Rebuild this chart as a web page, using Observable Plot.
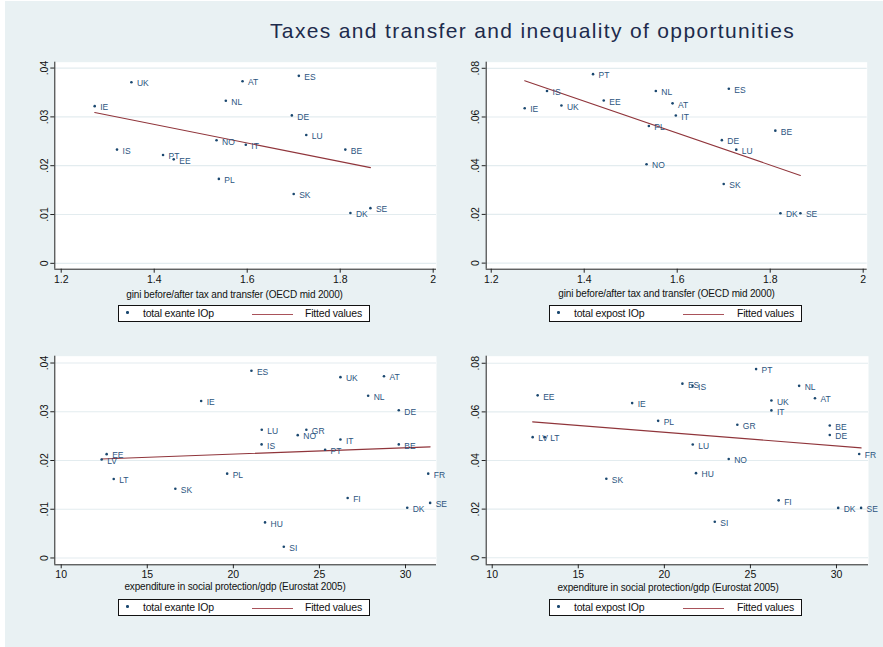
<!DOCTYPE html>
<html>
<head>
<meta charset="utf-8">
<script src="https://cdn.jsdelivr.net/npm/d3@7"></script>
<script src="https://cdn.jsdelivr.net/npm/@observablehq/plot@0.6"></script>
<style>
  html, body { margin: 0; padding: 0; background: #ffffff; }
  #root { position: relative; width: 883px; height: 647px; overflow: hidden; font-family: "Liberation Sans", Arial, sans-serif; }
  #bg { position: absolute; left: 5px; top: 1px; right: 0; bottom: 0; background: #e9f1f3; }
  .panel { position: absolute; }
  .title { position: absolute; top: 19px; left: 270px; font-size: 21px; color: #1d2b4c; white-space: nowrap; letter-spacing: 1.35px; }
  .xtitle { position: absolute; font-size: 10px; color: #111; white-space: nowrap; transform: translate(-50%, -50%); letter-spacing: -0.15px; }
  .legend { position: absolute; height: 17px; border: 1px solid #111; background: #fff; box-sizing: border-box; font-size: 10.5px; color: #111; }
  .legend span { position: absolute; top: 1px; white-space: nowrap; letter-spacing: -0.2px; }
  .legend .dot { position: absolute; width: 2.5px; height: 2.5px; border-radius: 50%; background: #1a476f; top: 5px; }
  .legend .ln { position: absolute; height: 1.3px; background: #a9525a; top: 8px; }
</style>
</head>
<body>
<div id="root"><div id="bg"></div></div>
<script>
// ---------- data ----------
const countries   = ["IE","UK","IS","PT","EE","NO","PL","NL","AT","IT","DE","SK","ES","LU","BE","DK","SE","GR","LV","LT","FR","FI","HU","SI"];
const giniRatio   = [1.272,1.351,1.320,1.419,1.442,1.534,1.539,1.554,1.590,1.597,1.696,1.700,1.711,1.727,1.811,1.822,1.865,null,null,null,null,null,null,null];
const expenditure = [18.13,26.22,21.64,25.33,12.64,23.74,19.64,27.83,28.75,26.22,29.61,16.63,21.05,21.65,29.61,30.10,31.43,24.24,12.35,13.05,31.32,26.64,21.84,22.93];
const exanteIOp   = [.0322,.0371,.0233,.0222,.0213,.0252,.0173,.0333,.0373,.0243,.0303,.0142,.0384,.0263,.0233,.0103,.0113,.0263,.0202,.0162,.0173,.0123,.0073,.0023];
const expostIOp   = [.0636,.0647,.0707,.0776,.0668,.0406,.0563,.0707,.0656,.0606,.0505,.0325,.0716,.0466,.0544,.0205,.0205,.0547,.0496,.0496,.0427,.0236,.0348,.0148];

// fitted lines (end points)
const fitGiniX = [1.272, 1.865];
const fitGiniExanteY = [0.0309, 0.0196];
const fitGiniExpostY = [0.0749, 0.0360];
const fitExpX = [12.35, 31.43];
const fitExpExanteY = [0.0203, 0.0228];
const fitExpExpostY = [0.0559, 0.0452];

// ticks
const giniTicks = [1.2, 1.4, 1.6, 1.8, 2];
const giniTickLabels = ["1.2", "1.4", "1.6", "1.8", "2"];
const expTicks = [10, 15, 20, 25, 30];
const expTickLabels = ["10", "15", "20", "25", "30"];
const exanteTicks = [0, .01, .02, .03, .04];
const exanteTickLabels = ["0", ".01", ".02", ".03", ".04"];
const expostTicks = [0, .02, .04, .06, .08];
const expostTickLabels = ["0", ".02", ".04", ".06", ".08"];

const titleText = "Taxes and transfer and inequality of opportunities";
const xTitleGini = "gini before/after tax and transfer (OECD mid 2000)";
const xTitleExp = "expenditure in social protection/gdp (Eurostat 2005)";
const legendExante = "total exante IOp";
const legendExpost = "total expost IOp";
const legendFit = "Fitted values";

// ---------- styles ----------
const NAVY = "#1a476f", MAROON = "#90353b", GRID = "#e3ecef", AXIS = "#222";

const rows = countries.map((c, i) => ({c, gini: giniRatio[i], exp: expenditure[i], exante: exanteIOp[i], expost: expostIOp[i]}));

const panels = [
  {x: "gini", y: "exante", left: 0, top: 45, width: 441, height: 250, mL: 54.3, mR: 5, mT: 16.7, mB: 26.3,
   xd: [1.1862, 2.0071], yd: [-0.0012, 0.0412], xt: giniTicks, xl: giniTickLabels, yt: exanteTicks, yl: exanteTickLabels,
   fx: fitGiniX, fy: fitGiniExanteY, xtitle: xTitleGini, xtx: 234.5, xty: 293.5, lg: legendExante, lgx: 118, lgy: 305, lgw: 252},
  {x: "gini", y: "expost", left: 441, top: 45, width: 442, height: 250, mL: 44.7, mR: 16.3, mT: 16.7, mB: 26.3,
   xd: [1.1892, 2.0086], yd: [-0.0025, 0.0825], xt: giniTicks, xl: giniTickLabels, yt: expostTicks, yl: expostTickLabels,
   fx: fitGiniX, fy: fitGiniExpostY, xtitle: xTitleGini, xtx: 666.5, xty: 293, lg: legendExpost, lgx: 549, lgy: 305, lgw: 253},
  {x: "exp", y: "exante", left: 0, top: 339, width: 441, height: 250, mL: 54.3, mR: 5, mT: 16.7, mB: 24.7,
   xd: [9.628, 31.80], yd: [-0.0014, 0.0414], xt: expTicks, xl: expTickLabels, yt: exanteTicks, yl: exanteTickLabels,
   fx: fitExpX, fy: fitExpExanteY, xtitle: xTitleExp, xtx: 235, xty: 586, lg: legendExante, lgx: 118, lgy: 599, lgw: 252},
  {x: "exp", y: "expost", left: 441, top: 339, width: 442, height: 250, mL: 44.7, mR: 15, mT: 16.7, mB: 24.7,
   xd: [9.651, 31.86], yd: [-0.0029, 0.0829], xt: expTicks, xl: expTickLabels, yt: expostTicks, yl: expostTickLabels,
   fx: fitExpX, fy: fitExpExpostY, xtitle: xTitleExp, xtx: 668, xty: 587, lg: legendExpost, lgx: 549, lgy: 599, lgw: 253}
];

const root = document.getElementById("root");

const t = document.createElement("div");
t.className = "title";
t.textContent = titleText;
root.appendChild(t);

for (const p of panels) {
  const data = rows.filter(d => d[p.x] != null && d[p.y] != null);
  const fit = p.fx.map((x, i) => ({x, y: p.fy[i]}));
  const svg = Plot.plot({
    width: p.width, height: p.height,
    marginLeft: p.mL, marginRight: p.mR, marginTop: p.mT, marginBottom: p.mB,
    style: {background: "transparent", fontFamily: "Liberation Sans, Arial, sans-serif", overflow: "visible"},
    x: {domain: p.xd, label: null},
    y: {domain: p.yd, label: null},
    marks: [
      Plot.frame({fill: "white", stroke: "none"}),
      Plot.ruleY(p.yt, {stroke: GRID, strokeWidth: 1.2}),
      Plot.ruleY([p.yd[0]], {stroke: AXIS, strokeWidth: 1}),
      Plot.ruleX([p.xd[0]], {stroke: AXIS, strokeWidth: 1}),
      Plot.axisX({ticks: p.xt, tickFormat: (d) => p.xl[p.xt.indexOf(d)], tickSize: 4, tickPadding: 2, fontSize: 10.5, stroke: AXIS, fill: "#111"}),
      Plot.axisY({ticks: p.yt, tickFormat: (d) => p.yl[p.yt.indexOf(d)], tickSize: 4, tickRotate: -90, tickPadding: 3, fontSize: 10.5, stroke: AXIS, fill: "#111"}),
      Plot.line(fit, {x: "x", y: "y", stroke: MAROON, strokeWidth: 1.1}),
      Plot.dot(data, {x: p.x, y: p.y, r: 1.3, fill: NAVY, stroke: "none"}),
      Plot.text(data, {x: p.x, y: p.y, text: "c", dx: 5.5, dy: 1.5, textAnchor: "start", fontSize: 8.5, fill: "#2b5480"})
    ]
  });
  svg.classList.add("panel");
  svg.style.left = p.left + "px";
  svg.style.top = p.top + "px";
  svg.style.position = "absolute";
  root.appendChild(svg);

  const xt = document.createElement("div");
  xt.className = "xtitle";
  xt.style.left = p.xtx + "px";
  xt.style.top = p.xty + "px";
  xt.textContent = p.xtitle;
  root.appendChild(xt);

  const lg = document.createElement("div");
  lg.className = "legend";
  lg.style.left = p.lgx + "px";
  lg.style.top = p.lgy + "px";
  lg.style.width = p.lgw + "px";
  lg.innerHTML = `<div class="dot" style="left:7px"></div><span style="left:24px">${p.lg}</span>` +
    `<div class="ln" style="left:133px;width:41px"></div><span style="left:${p.lgw - 66}px">${legendFit}</span>`;
  root.appendChild(lg);
}
</script>
</body>
</html>
